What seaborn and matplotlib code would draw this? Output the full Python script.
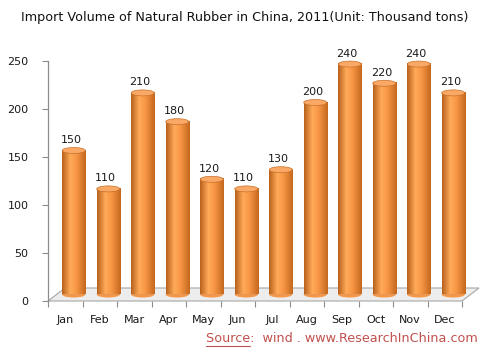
import numpy as np
import pandas as pd
import matplotlib
matplotlib.use("Agg")
import matplotlib.pyplot as plt
import matplotlib.transforms as mtransforms
from matplotlib.patches import Ellipse, Polygon
import seaborn as sns

months = ["Jan", "Feb", "Mar", "Apr", "May", "Jun",
          "Jul", "Aug", "Sep", "Oct", "Nov", "Dec"]
volume = [150, 110, 210, 180, 120, 110, 130, 200, 240, 220, 240, 210]

df = pd.DataFrame({"Month": months, "Volume": volume})

sns.set_theme(style="white")
plt.rcParams["font.family"] = ["DejaVu Sans"]

fig = plt.figure(figsize=(4.9, 3.53), dpi=100)
ax = fig.add_axes([48 / 490, 52 / 353, 414 / 490, 240 / 353])

sns.barplot(data=df, x="Month", y="Volume", color="#f79646", width=0.67,
            ax=ax, zorder=3)
bars = list(ax.patches)

ax.set_xlim(-0.5, 11.5)
ax.set_ylim(0, 250)

# depth of the fake 3d floor (px -> data units)
px_x = 414 / 12
px_y = 240 / 250
depth_x = 17 / px_x
depth_y = 13 / px_y

floor = Polygon([(-0.5, 0), (11.5, 0), (11.5 + depth_x, depth_y),
                 (-0.5 + depth_x, depth_y)], closed=True,
                facecolor="#ededed", edgecolor="#a6a6a6", lw=0.8,
                clip_on=False, zorder=1)
ax.add_patch(floor)

# bars stand half way into the floor
shift = mtransforms.offset_copy(ax.transData, fig=fig, x=8.5 * 0.72,
                                y=6.5 * 0.72, units="points")

# cylinder shading
grad_pos = [0.0, 0.35, 0.6, 1.0]
grad_col = [(0.72, 0.38, 0.11), (1.0, 0.67, 0.35),
            (0.97, 0.59, 0.27), (0.77, 0.41, 0.12)]
t = np.linspace(0, 1, 64)
grad = np.stack([np.interp(t, grad_pos, [c[i] for c in grad_col])
                 for i in range(3)], axis=-1)[None, :, :]

cap_h = 6 / px_y
for p in bars:
    x, w, h = p.get_x(), p.get_width(), p.get_height()
    p.set_transform(shift)
    p.set_edgecolor("none")
    base = Ellipse((x + w / 2, 0), w, cap_h, facecolor=grad_col[2],
                   edgecolor="none", transform=shift, zorder=2.5,
                   clip_on=False)
    ax.add_patch(base)
    im = ax.imshow(grad, extent=(x, x + w, 0, h), aspect="auto",
                   transform=shift, zorder=3.5, clip_on=False)
    im.set_clip_path(p)
    top = Ellipse((x + w / 2, h), w, cap_h, facecolor="#f9a865",
                  edgecolor="#c8702a", lw=0.5, transform=shift, zorder=4,
                  clip_on=False)
    ax.add_patch(top)
    ax.text(x + w / 2 - 0.08, h + 11, f"{int(h)}", ha="center",
            va="center", fontsize=8, color="#1a1a1a", transform=shift,
            zorder=5)

ax.set_xlim(-0.5, 11.5)
ax.set_ylim(0, 250)

for s in ["top", "right", "bottom"]:
    ax.spines[s].set_visible(False)
ax.spines["left"].set_color("#8c8c8c")
ax.spines["left"].set_linewidth(0.9)

ax.set_yticks(range(0, 251, 50))
ax.tick_params(axis="y", which="major", left=True, length=4, width=0.8,
               color="#8c8c8c", labelsize=8, pad=10, labelcolor="#1a1a1a")
ax.set_xticks(range(12))
ax.set_xticklabels(months)
ax.tick_params(axis="x", which="major", length=0, labelsize=8, pad=10,
               labelcolor="#1a1a1a")
ax.set_xticks(np.arange(-0.5, 12, 1), minor=True)
ax.tick_params(axis="x", which="minor", bottom=True, length=4, width=0.8,
               color="#8c8c8c")
ax.set_xlabel("")
ax.set_ylabel("")
ax.grid(False)

fig.text(0.5, 1 - 17 / 353,
         "Import Volume of Natural Rubber in China, 2011(Unit: Thousand tons)",
         ha="center", va="center", fontsize=9.2, color="#111111")

fig.text(206 / 490, 1 - 339 / 353, "Source:  wind . www.ResearchInChina.com",
         ha="left", va="center", fontsize=9.2, color="#c0504d")
fig.add_artist(plt.Line2D([206 / 490, 250 / 490],
                          [1 - 346 / 353, 1 - 346 / 353],
                          color="#c0504d", lw=0.8))

fig.savefig("out.png", dpi=100)
